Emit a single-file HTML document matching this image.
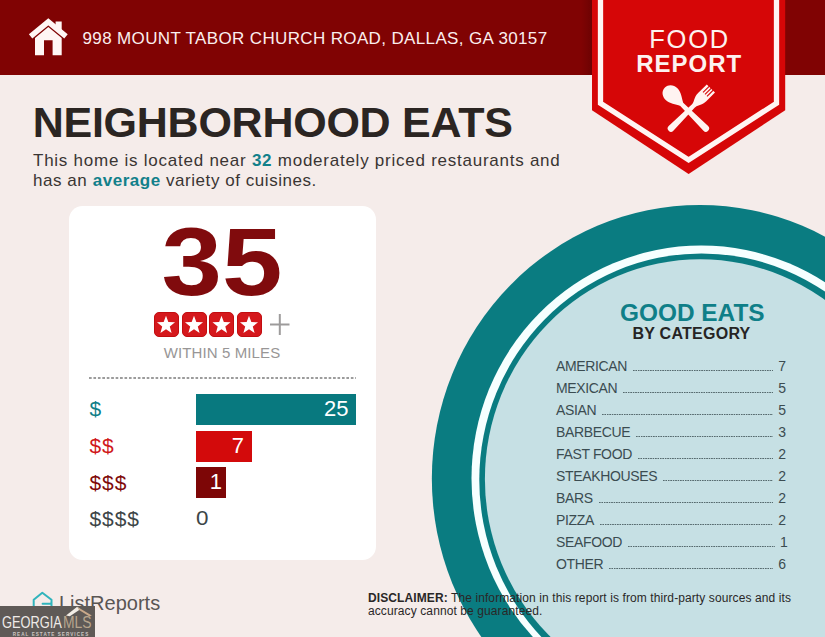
<!DOCTYPE html>
<html>
<head>
<meta charset="utf-8">
<style>
*{margin:0;padding:0;box-sizing:border-box;}
html,body{width:825px;height:637px;overflow:hidden;}
body{background:#f5ecea;font-family:"Liberation Sans",sans-serif;position:relative;color:#2a2523;}
.abs{position:absolute;white-space:nowrap;}
#hdr{left:0;top:0;width:825px;height:74.5px;background:#800303;}
#addr{left:82.5px;top:28.5px;font-size:17px;line-height:20px;color:#fbeeee;letter-spacing:0.36px;}
#title{left:32.7px;top:98.4px;font-size:43px;line-height:48px;font-weight:bold;color:#2b2522;letter-spacing:-0.25px;}
.sub{left:33px;font-size:17px;line-height:20px;color:#3a3533;letter-spacing:0.75px;}
.sub b{color:#12808a;}
#card{left:69px;top:205.6px;width:307px;height:354.2px;background:#fff;border-radius:13.5px;}
#big{left:68px;width:308px;top:213.2px;text-align:center;font-size:97px;line-height:97px;font-weight:bold;color:#800b0d;transform:scaleX(1.12);transform-origin:50% 50%;}
.star{top:311.6px;width:25px;height:25px;border-radius:5px;background:#d5181c;border:1.5px solid #c20d10;}
#plus{left:268px;top:312px;}
#within{left:68px;width:308px;top:344px;text-align:center;font-size:15px;line-height:18px;color:#989696;letter-spacing:0.12px;}
#dots{left:89px;top:377.2px;width:267px;height:1.4px;background-image:linear-gradient(to right,#9c9c9c 2.9px,rgba(0,0,0,0) 2.9px);background-size:4.45px 1.4px;}
.lbl{left:89.5px;font-size:21px;line-height:29px;letter-spacing:0.9px;}
.bar{left:196px;height:31px;color:#fff;font-size:22px;line-height:29.5px;text-align:right;padding-right:7.5px;}
.cat{left:556px;width:230px;font-size:14px;line-height:22px;color:#3b4c51;height:22px;display:flex;margin-top:0.4px;}
.cat .l{letter-spacing:-0.35px;}
.cat .n{width:8px;text-align:right;}
.cat i{flex:1;margin:0 5px 0 6px;height:1.3px;align-self:flex-start;margin-top:14.8px;background-image:linear-gradient(to right,#566a6e 1.25px,rgba(0,0,0,0) 1.25px);background-size:2.45px 1.3px;}
#ge{left:620px;width:143px;text-align:center;top:298.8px;font-size:24.4px;line-height:28px;font-weight:bold;color:#0f7f88;}
#bc{left:620px;width:143px;text-align:center;top:324.8px;font-size:16px;line-height:18px;font-weight:bold;color:#262424;letter-spacing:0.25px;}
.disc{left:368px;font-size:12px;line-height:13px;color:#2a2727;letter-spacing:0.1px;}
</style>
</head>
<body>
<div id="hdr" class="abs"></div>

<div class="abs" style="left:581px;top:0;width:11px;height:74.5px;background:linear-gradient(to right,rgba(60,0,0,0),rgba(60,0,0,0.28));"></div>
<!-- plate -->
<svg class="abs" style="left:0;top:0" width="825" height="637" viewBox="0 0 825 637">
  <ellipse cx="699.85" cy="478.54" rx="268" ry="273.5" fill="#0a7c81"/>
  <ellipse cx="701.2" cy="478.5" rx="229.7" ry="232.9" fill="#f6ffff"/>
  <ellipse cx="701.5" cy="479.9" rx="222.2" ry="226.5" fill="#0a7c81"/>
  <ellipse cx="700.1" cy="479" rx="215.2" ry="219.7" fill="#c6e0e4"/>
</svg>

<!-- badge -->
<svg class="abs" style="left:0;top:0" width="825" height="637" viewBox="0 0 825 637">
  <polygon points="592,0 785.2,0 785.2,110.2 688.6,174 592,110.2" fill="#d60607"/>
  <polyline points="600.5,0 600.5,103.2 688.6,159.9 776.5,103.2 776.5,0" fill="none" stroke="#fff5f3" stroke-width="5.3"/>
  <g fill="#fff3f1" stroke="none">
    <g transform="translate(688.4,111) rotate(-45)">
      <path d="M0,-33.2 C5.5,-33.2 8.3,-28.5 8.3,-23.8 C8.3,-18.5 4.2,-13.5 2.1,-9.5 L-2.1,-9.5 C-4.2,-13.5 -8.3,-18.5 -8.3,-23.8 C-8.3,-28.5 -5.5,-33.2 0,-33.2 Z"/>
      <path d="M-2.1,-11 L2.1,-11 L3.3,24.6 A3.3,3.3 0 0 1 -3.3,24.6 Z"/>
    </g>
    <g transform="translate(688.4,111) rotate(45)">
      <path d="M-2.1,-8 L2.1,-8 L3.3,24.6 A3.3,3.3 0 0 1 -3.3,24.6 Z"/>
      <path d="M-5.8,-31.8 L5.8,-31.8 L5.8,-19.5 C5.8,-13.5 2.8,-12 2.1,-7.5 L-2.1,-7.5 C-2.8,-12 -5.8,-13.5 -5.8,-19.5 Z"/>
      <g stroke="#d60607" stroke-width="1.1">
        <line x1="-2.8" y1="-32.5" x2="-2.8" y2="-23.5"/>
        <line x1="0" y1="-32.5" x2="0" y2="-23.5"/>
        <line x1="2.8" y1="-32.5" x2="2.8" y2="-23.5"/>
      </g>
    </g>
  </g>
</svg>
<div class="abs" style="left:592px;width:193.5px;text-align:center;top:25px;font-size:25.5px;line-height:28px;color:#fdf1ef;letter-spacing:1.8px;text-indent:1.8px;">FOOD</div>
<div class="abs" style="left:592px;width:193.5px;text-align:center;top:50.3px;font-size:24px;line-height:28px;color:#fdf1ef;font-weight:bold;letter-spacing:1px;text-indent:1px;">REPORT</div>

<!-- house -->
<svg class="abs" style="left:0;top:0" width="120" height="75" viewBox="0 0 120 75">
  <path d="M35,37.9 L35,55.3 L44,55.3 L44,40.2 L52.6,40.2 L52.6,55.3 L61.7,55.3 L61.7,37.9 L48.3,27 Z" fill="#fff6f4"/>
  <path d="M55.6,21.4 L61.7,21.4 L61.7,32 L55.6,27 Z" fill="#fff6f4"/>
  <path d="M30.6,36.3 L48.3,21.8 L66,36.3" fill="none" stroke="#fff6f4" stroke-width="5.4" stroke-linejoin="miter" stroke-miterlimit="10"/>
</svg>
<div id="addr" class="abs">998 MOUNT TABOR CHURCH ROAD, DALLAS, GA 30157</div>

<div id="title" class="abs">NEIGHBORHOOD EATS</div>
<div class="abs sub" id="s1" style="top:151.2px;">This home is located near <b>32</b> moderately priced restaurants and</div>
<div class="abs sub" id="s2" style="top:170.6px;letter-spacing:0.55px;">has an <b>average</b> variety of cuisines.</div>

<div id="card" class="abs"></div>
<div id="big" class="abs">35</div>
<div class="abs star" style="left:153.5px"></div>
<div class="abs star" style="left:181.5px"></div>
<div class="abs star" style="left:209px"></div>
<div class="abs star" style="left:236.5px"></div>
<svg class="abs" style="left:0;top:0" width="400" height="400" viewBox="0 0 400 400">
  <g fill="#fff">
    <polygon id="st" points="0,-9.5 2.35,-3.2 9.03,-2.94 3.8,1.23 5.58,7.69 0,4 -5.58,7.69 -3.8,1.23 -9.03,-2.94 -2.35,-3.2" transform="translate(166,325.3)"/>
    <polygon points="0,-9.5 2.35,-3.2 9.03,-2.94 3.8,1.23 5.58,7.69 0,4 -5.58,7.69 -3.8,1.23 -9.03,-2.94 -2.35,-3.2" transform="translate(194,325.3)"/>
    <polygon points="0,-9.5 2.35,-3.2 9.03,-2.94 3.8,1.23 5.58,7.69 0,4 -5.58,7.69 -3.8,1.23 -9.03,-2.94 -2.35,-3.2" transform="translate(221.5,325.3)"/>
    <polygon points="0,-9.5 2.35,-3.2 9.03,-2.94 3.8,1.23 5.58,7.69 0,4 -5.58,7.69 -3.8,1.23 -9.03,-2.94 -2.35,-3.2" transform="translate(249,325.3)"/>
  </g>
  <g stroke="#9d9b9b" stroke-width="2">
    <line x1="270" y1="324.5" x2="289.5" y2="324.5"/>
    <line x1="279.8" y1="314" x2="279.8" y2="335"/>
  </g>
</svg>
<div id="within" class="abs">WITHIN 5 MILES</div>
<div id="dots" class="abs"></div>

<div class="abs lbl" style="top:394px;color:#0f7f88;">$</div>
<div class="abs lbl" style="top:431px;color:#d0181b;">$$</div>
<div class="abs lbl" style="top:468px;color:#7f0a0a;">$$$</div>
<div class="abs lbl" style="top:504px;color:#3d4547;">$$$$</div>
<div class="abs bar" style="top:394px;width:160px;background:#08797f;">25</div>
<div class="abs bar" style="top:430.7px;width:55.5px;background:#d30a0b;">7</div>
<div class="abs bar" style="top:466.9px;width:30px;background:#7d0606;padding-right:4px;">1</div>
<div class="abs" style="left:196px;top:503px;font-size:20px;line-height:31px;color:#3d4547;transform:scaleX(1.12);transform-origin:0 0;">0</div>

<div id="ge" class="abs">GOOD EATS</div>
<div id="bc" class="abs">BY CATEGORY</div>

<div class="abs cat" style="top:355px"><span class="l">AMERICAN</span><i></i><span class="n">7</span></div>
<div class="abs cat" style="top:377px"><span class="l">MEXICAN</span><i></i><span class="n">5</span></div>
<div class="abs cat" style="top:399px"><span class="l">ASIAN</span><i></i><span class="n">5</span></div>
<div class="abs cat" style="top:421px"><span class="l">BARBECUE</span><i></i><span class="n">3</span></div>
<div class="abs cat" style="top:443px"><span class="l">FAST FOOD</span><i></i><span class="n">2</span></div>
<div class="abs cat" style="top:465px"><span class="l">STEAKHOUSES</span><i></i><span class="n">2</span></div>
<div class="abs cat" style="top:487px"><span class="l">BARS</span><i></i><span class="n">2</span></div>
<div class="abs cat" style="top:509px"><span class="l">PIZZA</span><i></i><span class="n">2</span></div>
<div class="abs cat" style="top:531px"><span class="l">SEAFOOD</span><i></i><span class="n" style="width:6px">1</span></div>
<div class="abs cat" style="top:553px"><span class="l">OTHER</span><i></i><span class="n">6</span></div>

<div class="abs disc" style="top:592px;"><b>DISCLAIMER:</b> The information in this report is from third-party sources and its</div>
<div class="abs disc" style="top:605.2px;">accuracy cannot be guaranteed.</div>

<!-- ListReports -->
<svg class="abs" style="left:0;top:0" width="200" height="637" viewBox="0 0 200 637">
  <path d="M33.7,607 V599.7 L42.3,592.7 L51.5,599.7 V607 M42.6,603.7 H50.4" fill="none" stroke="#30b4bc" stroke-width="2" stroke-linejoin="round" stroke-linecap="round"/>
</svg>
<div class="abs" style="left:59px;top:591px;font-size:20px;line-height:24px;color:#5a5654;">ListReports</div>

<!-- Georgia MLS -->
<div class="abs" style="left:0;top:605.6px;width:95.2px;height:32px;background:#5f5a57;"></div>
<svg class="abs" style="left:0;top:0" width="200" height="637" viewBox="0 0 200 637">
  <polygon points="66,615.6 77.2,606.8 80.3,609.2 69.8,616.2" fill="#f2ede6"/>
  <polygon points="77.2,606.8 91.8,615.5 89.6,616.5 79,610" fill="#c9a98a"/>
</svg>
<div class="abs" style="left:2.3px;top:614.2px;font-size:16px;line-height:18px;color:#efebe8;transform:scaleX(0.802);transform-origin:0 0;">GEORGIA</div>
<div class="abs" style="left:63.4px;top:614.2px;font-size:16px;line-height:18px;color:#b7a58d;transform:scaleX(0.867);transform-origin:0 0;">MLS</div>
<div class="abs" style="left:12.7px;top:631.6px;font-size:4.6px;line-height:6px;color:#cdc7c3;letter-spacing:1.05px;font-weight:bold;">REAL ESTATE SERVICES</div>
</body>
</html>
